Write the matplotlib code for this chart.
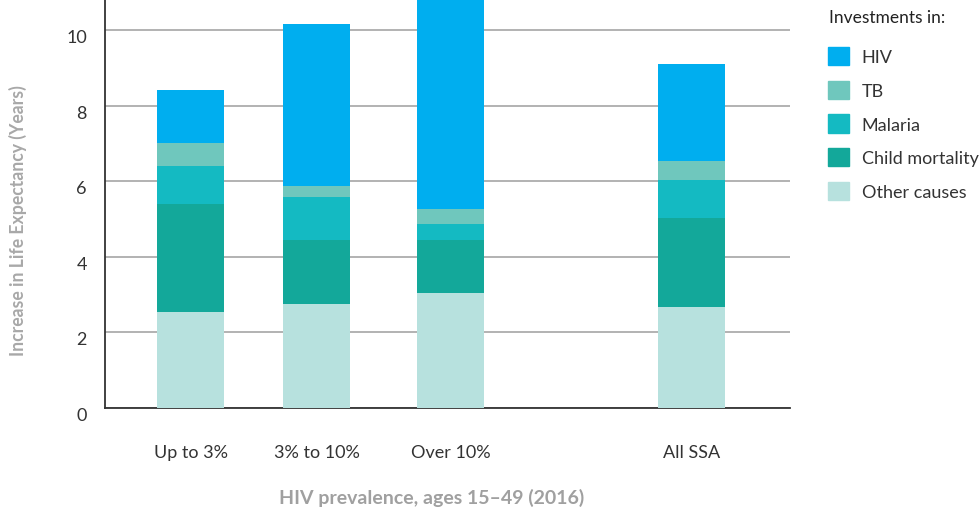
import matplotlib
matplotlib.use("Agg")
import matplotlib.pyplot as plt
import matplotlib.patches as mpatches
import matplotlib.transforms as mtransforms
import numpy as np

plt.rcParams["font.family"] = ["Lato", "DejaVu Sans"]

#	Data
categories = ["Up to 3%", "3% to 10%", "Over 10%", "All SSA"]
other_causes = [2.54, 2.75, 3.04, 2.67]
child_mortality = [2.86, 1.69, 1.40, 2.36]
malaria = [1.00, 1.14, 0.43, 1.00]
tb = [0.61, 0.29, 0.39, 0.50]
hiv = [1.40, 4.29, 5.74, 2.57]

series = [("Other causes", other_causes, "#b7e1de"),
	("Child mortality", child_mortality, "#13a89a"),
	("Malaria", malaria, "#14bac2"),
	("TB", tb, "#6fc7bd"),
	("HIV", hiv, "#00aeef")]

#	Bar layout (gap before All SSA)
xpos = [85.5, 211.5, 345.5, 586.5]
bar_width = 67


def main():
	fig = plt.figure(figsize=(9.8, 5.1), dpi=100)
	ax = fig.add_axes([105 / 980, 1 - 409 / 510, 685 / 980, 409 / 510])

	bottom = np.zeros(len(categories))
	handles = []
	for name, vals, color in series:
		ax.bar(xpos, vals, bar_width, bottom=bottom, color=color, zorder=3)
		bottom += np.array(vals)
		handles.append(mpatches.Patch(color=color, label=name))

	ax.set_xlim(0, 685)
	ax.set_ylim(0, 10.82)
	ax.set_yticks([0, 2, 4, 6, 8, 10])
	ax.set_xticks(xpos)
	ax.set_xticklabels(categories)
	ax.grid(axis="y", color="#a6a6a6", linewidth=1.2, zorder=0)
	ax.tick_params(length=0, labelsize=13, colors="#333333")
	ax.tick_params(axis="x", pad=26)
	ax.tick_params(axis="y", pad=13)
#	y tick labels sit a little below their gridline
	shift = mtransforms.ScaledTranslation(0, -4 / 72, fig.dpi_scale_trans)
	for lbl in ax.get_yticklabels():
		lbl.set_transform(lbl.get_transform() + shift)
	for s in ["top", "right"]:
		ax.spines[s].set_visible(False)
	for s in ["left", "bottom"]:
		ax.spines[s].set_color("#333333")
		ax.spines[s].set_linewidth(1.3)

	ax.set_ylabel("Increase in Life Expectancy (Years)", fontsize=12.7, color="#a8a8a8", fontweight="bold")
	ax.yaxis.set_label_coords(-78 / 685, (409 - 221) / 409)
	fig.text(432 / 980, 1 - 498 / 510, "HIV prevalence, ages 15\u201349 (2016)", fontsize=14, color="#a0a0a0", fontweight="bold", ha="center", va="center")

#	Legend title drawn separately so the gap under it matches
	fig.text(829 / 980, 1 - 18 / 510, "Investments in:", fontsize=12.5, color="#222222", ha="left", va="center")
	leg = fig.legend(handles=handles[::-1], loc="upper left", bbox_to_anchor=(828 / 980, 1 - 48 / 510),
		frameon=False, fontsize=13, handlelength=1.17, handleheight=1.17, labelspacing=0.86,
		handletextpad=0.7, borderaxespad=0, borderpad=0)
	for t in leg.get_texts():
		t.set_color("#333333")

	fig.savefig("out.png", dpi=100)


main()
